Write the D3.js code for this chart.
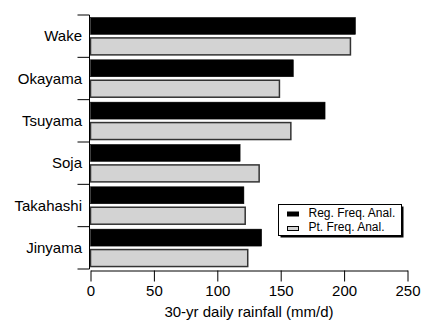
<!DOCTYPE html>
<html>
<head>
<meta charset="utf-8">
<script src="https://cdn.jsdelivr.net/npm/d3@7"></script>
<style>
  body { margin: 0; background: #fff; }
  svg { display: block; font-family: "Liberation Sans", Arial, sans-serif; }
</style>
</head>
<body>
<script>
// stations, top to bottom
var stations = ["Wake", "Okayama", "Tsuyama", "Soja", "Takahashi", "Jinyama"];
// regional frequency analysis (black bars)
var regFreq = [209, 160, 185, 118, 121, 135];
// point frequency analysis (gray bars)
var ptFreq = [205, 149, 158, 133, 122, 124];
var seriesNames = ["Reg. Freq. Anal.", "Pt. Freq. Anal."];
var xTicks = [0, 50, 100, 150, 200, 250];

var w = 426, h = 322;

// build rows for drawing
var rows = [];
for (var i = 0; i < stations.length; i++) {
  rows.push({ station: stations[i], reg: regFreq[i], pt: ptFreq[i] });
}

var svg = d3.select("body").append("svg")
  .attr("width", w)
  .attr("height", h);

var xScale = d3.scaleLinear()
  .domain([0, 250])
  .range([90.5, 407.5]);

var yScale = d3.scaleBand()
  .domain(stations)
  .range([15, 269])
  .paddingInner(0)
  .paddingOuter(0);

// two bars inside each station band
var subScale = d3.scaleBand()
  .domain(["reg", "pt"])
  .range([0, yScale.bandwidth()])
  .paddingInner(0.17)
  .paddingOuter(0.12);

var fills = { reg: "#000", pt: "#d3d3d3" };

var groups = svg.selectAll("g.row")
  .data(rows)
  .enter()
  .append("g")
  .attr("class", "row")
  .attr("transform", d => "translate(0," + yScale(d.station) + ")");

["reg", "pt"].forEach(function(key) {
  groups.append("rect")
    .attr("x", xScale(0))
    .attr("y", subScale(key))
    .attr("width", d => xScale(d[key]) - xScale(0))
    .attr("height", subScale.bandwidth())
    .attr("fill", fills[key])
    .attr("stroke", key == "pt" ? "#333" : "#000")
    .attr("stroke-width", key == "pt" ? 1.5 : 0.5);
});

// x axis
var xAxis = d3.axisBottom(xScale)
  .tickValues(xTicks)
  .tickSize(11)
  .tickSizeOuter(0)
  .tickPadding(4);

var gx = svg.append("g")
  .attr("transform", "translate(0,270.5)")
  .call(xAxis);
gx.selectAll("text").style("font-size", "15px").attr("fill", "#000");
gx.selectAll("line, path").attr("stroke", "#000");

svg.append("text")
  .attr("x", (xScale(0) + xScale(250)) / 2)
  .attr("y", 317)
  .attr("text-anchor", "middle")
  .style("font-size", "15px")
  .text("30-yr daily rainfall (mm/d)");

// y axis: line, boundary ticks and station labels
var axisX = 89.5;
svg.append("line")
  .attr("x1", axisX).attr("x2", axisX)
  .attr("y1", yScale.range()[0]).attr("y2", yScale.range()[1])
  .attr("stroke", "#000");

var bounds = stations.map(s => yScale(s)).concat([yScale.range()[1]]);
svg.selectAll("line.ytick")
  .data(bounds)
  .enter()
  .append("line")
  .attr("class", "ytick")
  .attr("x1", axisX - 12).attr("x2", axisX)
  .attr("y1", d => d).attr("y2", d => d)
  .attr("stroke", "#000");

svg.selectAll("text.ylab")
  .data(stations)
  .enter()
  .append("text")
  .attr("class", "ylab")
  .attr("x", 82)
  .attr("y", d => yScale(d) + yScale.bandwidth() / 2)
  .attr("dy", "0.35em")
  .attr("text-anchor", "end")
  .style("font-size", "15px")
  .text(d => d);

// legend with drop shadow
var lg = svg.append("g").attr("transform", "translate(278.5,204.5)");
lg.append("rect")
  .attr("x", 2).attr("y", 2)
  .attr("width", 123).attr("height", 31)
  .attr("fill", "#000");
lg.append("rect")
  .attr("width", 123).attr("height", 31)
  .attr("fill", "#fff")
  .attr("stroke", "#000");

seriesNames.forEach(function(name, i) {
  var key = i == 0 ? "reg" : "pt";
  lg.append("rect")
    .attr("x", 9).attr("y", 7.5 + i * 14.5)
    .attr("width", 11).attr("height", 4)
    .attr("fill", fills[key])
    .attr("stroke", "#000")
    .attr("stroke-width", 1);
  lg.append("text")
    .attr("x", 30)
    .attr("y", 12 + i * 14.5)
    .style("font-size", "12px")
    .text(name);
});
</script>
</body>
</html>
